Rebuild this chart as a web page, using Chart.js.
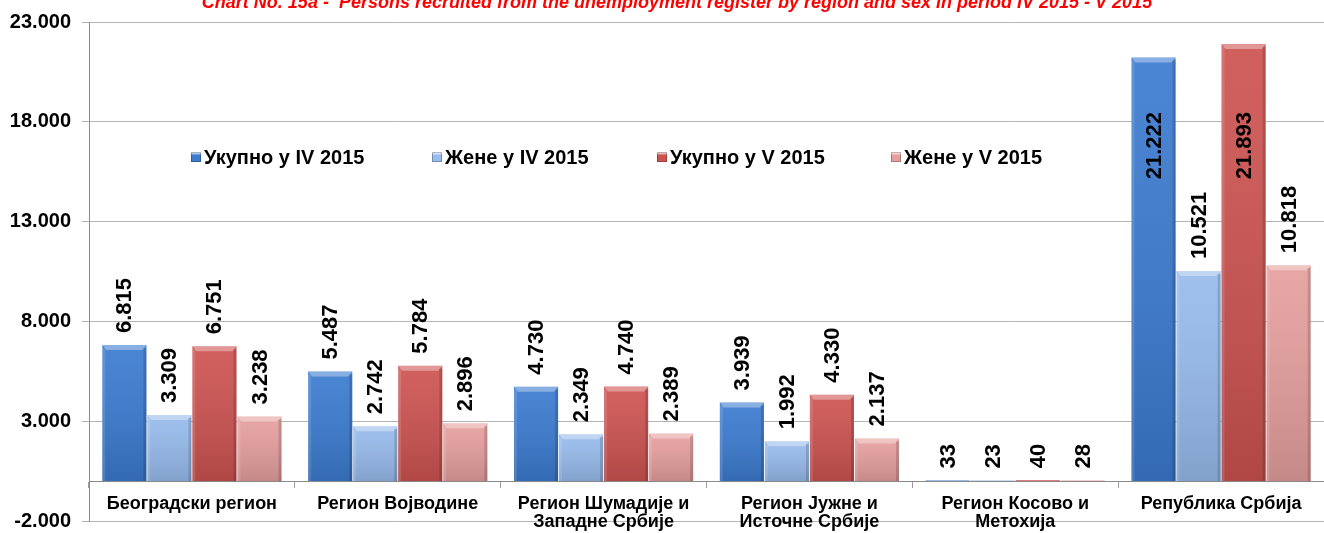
<!DOCTYPE html>
<html>
<head>
<meta charset="utf-8">
<script src="https://cdn.jsdelivr.net/npm/chart.js@4.4.1/dist/chart.umd.min.js"></script>
<style>
  html, body { margin: 0; padding: 0; background: #fff; }
  #wrap { width: 1324px; height: 533px; position: relative; }
</style>
</head>
<body>
<div id="wrap"><canvas id="regionChart"></canvas></div>
<script>
// Data
const categories = [
    'Београдски регион',
    'Регион Војводине',
    ['Регион Шумадије и', 'Западне Србије'],
    ['Регион Јужне и', 'Источне Србије'],
    ['Регион Косово и', 'Метохија'],
    'Република Србија'
];
const seriesNames = ['Укупно у IV 2015', 'Жене у IV 2015', 'Укупно у V 2015', 'Жене у V 2015'];
const totalApr = [6815, 5487, 4730, 3939, 33, 21222];
const womenApr = [3309, 2742, 2349, 1992, 23, 10521];
const totalMay = [6751, 5784, 4740, 4330, 40, 21893];
const womenMay = [3238, 2896, 2389, 2137, 28, 10818];
const yTicks = [-2000, 3000, 8000, 13000, 18000, 23000];
const chartTitle = 'Chart No. 15a -  Persons recruited from the unemployment register by region and sex in period IV 2015 - V 2015';

const barColors = ['#3b7bd0', '#97bbec', '#cd5351', '#e59f9e'];
const FONT = 'Arial, "Liberation Sans", sans-serif';

// 6815 -> "6.815"
function fmt(v) {
    return String(v).replace(/\B(?=(\d{3})+(?!\d))/g, '.');
}

// Bevel look of the Excel bars
const bevelPlugin = {
    id: 'bevel',
    afterDatasetsDraw(chart) {
        const c = chart.ctx;
        chart.data.datasets.forEach((ds, i) => {
            const meta = chart.getDatasetMeta(i);
            meta.data.forEach(bar => {
                const h = bar.base - bar.y;
                if (h < 4) return;
                const l = bar.x - bar.width / 2, r = bar.x + bar.width / 2;
                c.save();
                const g = c.createLinearGradient(0, bar.y, 0, bar.base);
                g.addColorStop(0, 'rgba(255,255,255,0.08)');
                g.addColorStop(1, 'rgba(0,0,0,0.14)');
                c.fillStyle = g;
                c.fillRect(l, bar.y, bar.width, h);
                // top bevel
                c.fillStyle = 'rgba(255,255,255,0.35)';
                c.beginPath();
                c.moveTo(l, bar.y); c.lineTo(r, bar.y);
                c.lineTo(r - 4, bar.y + 5); c.lineTo(l + 4, bar.y + 5);
                c.closePath(); c.fill();
                // side edges
                c.fillStyle = 'rgba(255,255,255,0.12)';
                c.fillRect(l, bar.y + 3, 3, h - 3);
                c.fillStyle = 'rgba(0,0,0,0.15)';
                c.fillRect(r - 3, bar.y + 3, 3, h - 3);
                c.restore();
            });
        });
    }
};

// Rotated value labels above the bars
const valueLabels = {
    id: 'valueLabels',
    afterDatasetsDraw(chart) {
        const c = chart.ctx;
        const top = chart.chartArea.top;
        c.save();
        c.font = 'bold 22px ' + FONT;
        c.fillStyle = '#000';
        c.textAlign = 'left';
        c.textBaseline = 'middle';
        chart.data.datasets.forEach((ds, i) => {
            const meta = chart.getDatasetMeta(i);
            meta.data.forEach((bar, j) => {
                const txt = fmt(ds.data[j]);
                const len = c.measureText(txt).width;
                let start = bar.y - 12;
                if (start - len < top + 90) start = top + 90 + len;
                c.save();
                c.translate(bar.x + 1, start);
                c.rotate(-Math.PI / 2);
                c.fillText(txt, 0, 0);
                c.restore();
            });
        });
        c.restore();
    }
};

// Legend inside the plot + title cut at the top
const legendX = [191, 432, 657, 891];
const overlay = {
    id: 'overlay',
    afterDraw(chart) {
        const c = chart.ctx;
        c.save();
        c.font = 'bold 20px ' + FONT;
        c.textBaseline = 'middle';
        c.textAlign = 'left';
        seriesNames.forEach((name, i) => {
            const x = legendX[i], y = 157;
            const g = c.createLinearGradient(0, y - 5, 0, y + 5);
            g.addColorStop(0, '#fff');
            g.addColorStop(0.35, barColors[i]);
            g.addColorStop(1, barColors[i]);
            c.fillStyle = g;
            c.fillRect(x, y - 5, 10, 10);
            c.strokeStyle = 'rgba(0,0,0,0.25)';
            c.strokeRect(x + 0.5, y - 4.5, 9, 9);
            c.fillStyle = '#000';
            c.fillText(name, x + 13, y + 1);
        });
        c.font = 'italic bold 18px ' + FONT;
        c.fillStyle = '#ff0000';
        c.textAlign = 'center';
        c.textBaseline = 'alphabetic';
        c.fillText(chartTitle, 677, 8);
        c.restore();
    }
};

const ctx = document.getElementById('regionChart').getContext('2d');
const regionChart = new Chart(ctx, {
    type: 'bar',
    data: {
        labels: categories,
        datasets: [totalApr, womenApr, totalMay, womenMay].map((d, i) => ({
            label: seriesNames[i],
            data: d,
            backgroundColor: barColors[i],
            borderWidth: 0,
            categoryPercentage: 0.875,
            barPercentage: 0.98
        }))
    },
    options: {
        responsive: true,
        maintainAspectRatio: false,
        animation: false,
        layout: { padding: { top: 22, right: -5, bottom: 12, left: 0 } },
        plugins: {
            legend: { display: false },
            tooltip: { enabled: false }
        },
        scales: {
            x: {
                position: { y: 0 },
                afterFit: s => {
                    s.paddingLeft = 0; s.paddingRight = 0;
                    s.paddingTop = 0; s.paddingBottom = 0;
                },
                grid: {
                    drawOnChartArea: false,
                    offset: true,
                    tickLength: 6,
                    color: '#9a9a9a'
                },
                border: { color: '#8a8a8a', width: 1 },
                ticks: {
                    color: '#000',
                    font: { family: FONT, size: 18, weight: 'bold', lineHeight: 1.0 },
                    padding: 8,
                    maxRotation: 0,
                    autoSkip: false
                }
            },
            y: {
                min: yTicks[0],
                max: yTicks[yTicks.length - 1],
                afterBuildTicks: s => { s.ticks = yTicks.map(v => ({ value: v })); },
                afterFit: s => {
                    s.width = 89;
                    s.paddingTop = 0; s.paddingBottom = 0;
                },
                grid: { color: '#b4b4b4', tickLength: 7 },
                border: { color: '#8a8a8a' },
                ticks: {
                    color: '#000',
                    padding: 11,
                    font: { family: FONT, size: 20, weight: 'bold' },
                    callback: v => fmt(v)
                }
            }
        }
    },
    plugins: [bevelPlugin, valueLabels, overlay]
});
</script>
</body>
</html>
